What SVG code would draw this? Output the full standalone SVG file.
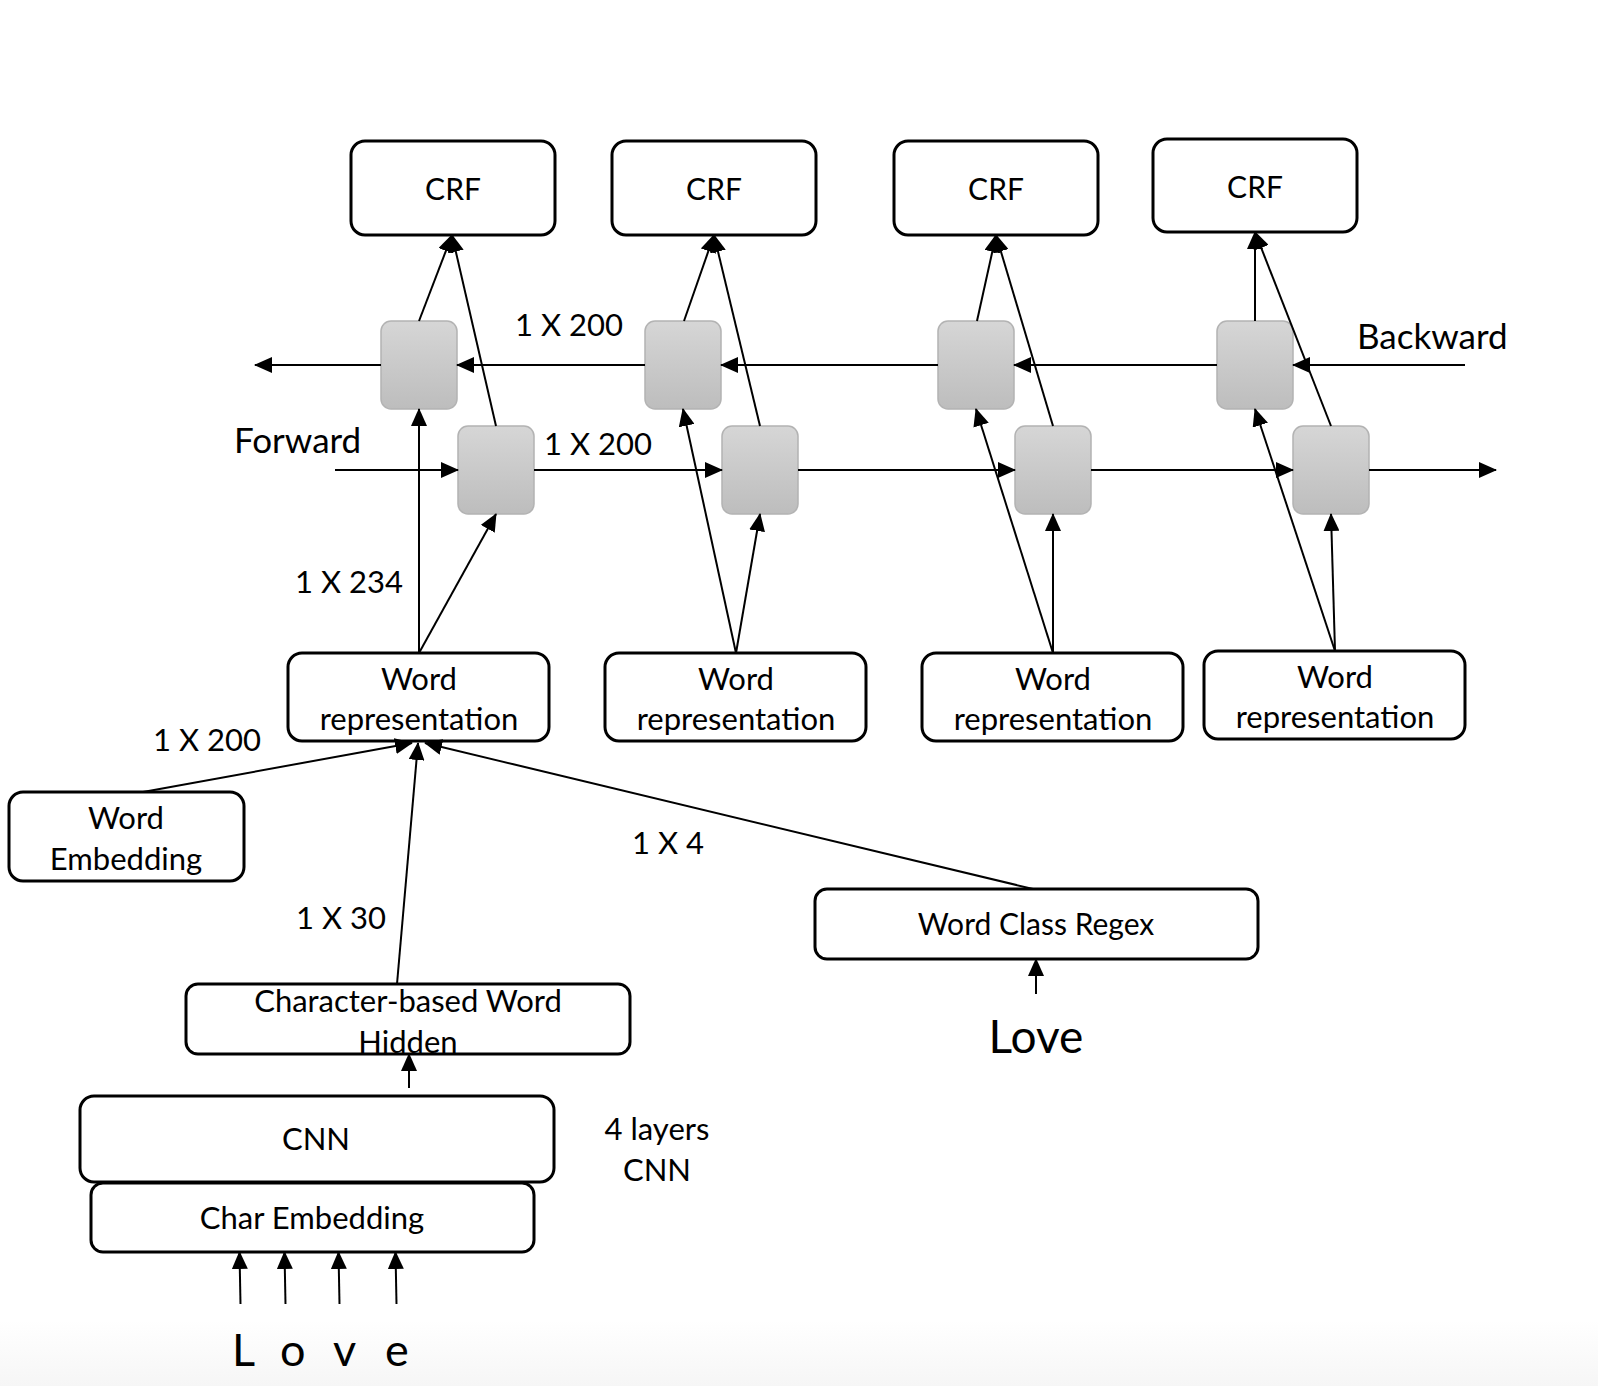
<svg xmlns="http://www.w3.org/2000/svg" width="1598" height="1386" viewBox="0 0 1598 1386">
<style>
.box{fill:#fff;stroke:#000;stroke-width:3}
.cell{stroke:#b3b3b3;stroke-width:1.5}
.t{font-family:Lato,"Liberation Sans",sans-serif;fill:#000;text-anchor:middle;font-size:31px}
.s30{font-size:30px}
.huge{font-size:46px}
.lab{font-family:Lato,"Liberation Sans",sans-serif;fill:#000;font-size:45px}
.big{font-family:Lato,"Liberation Sans",sans-serif;fill:#000;font-size:35px}
.c{fill:none;stroke:#000;stroke-width:2}
.a{marker-end:url(#ah)}
</style>
<defs>
<linearGradient id="g" x1="0" y1="0" x2="0" y2="1">
<stop offset="0" stop-color="#d6d6d6"/>
<stop offset="1" stop-color="#bdbdbd"/>
</linearGradient>
<linearGradient id="bg" x1="0" y1="0" x2="0" y2="1">
<stop offset="0" stop-color="#ffffff"/>
<stop offset="1" stop-color="#f6f6f6"/>
</linearGradient>
<marker id="ah" markerUnits="userSpaceOnUse" markerWidth="18" markerHeight="16" refX="17" refY="8" orient="auto">
<path d="M0,0 L18,8 L0,16 z" fill="#000"/>
</marker>
</defs>
<rect x="0" y="0" width="1598" height="1386" fill="#fff"/>
<rect x="0" y="1320" width="1598" height="66" fill="url(#bg)"/>

<g id="crf1"><rect class="box" x="351" y="141" width="204" height="94" rx="14"/><text class="t s30" x="453" y="200">CRF</text></g>
<g id="crf2"><rect class="box" x="612" y="141" width="204" height="94" rx="14"/><text class="t s30" x="714" y="200">CRF</text></g>
<g id="crf3"><rect class="box" x="894" y="141" width="204" height="94" rx="14"/><text class="t s30" x="996" y="200">CRF</text></g>
<g id="crf4"><rect class="box" x="1153" y="139" width="204" height="93" rx="14"/><text class="t s30" x="1255" y="198">CRF</text></g>

<g id="bcell1"><rect class="cell" fill="url(#g)" x="381" y="321" width="76" height="88" rx="10"/></g>
<g id="bcell2"><rect class="cell" fill="url(#g)" x="645" y="321" width="76" height="88" rx="10"/></g>
<g id="bcell3"><rect class="cell" fill="url(#g)" x="938" y="321" width="76" height="88" rx="10"/></g>
<g id="bcell4"><rect class="cell" fill="url(#g)" x="1217" y="321" width="76" height="88" rx="10"/></g>
<g id="fcell1"><rect class="cell" fill="url(#g)" x="458" y="426" width="76" height="88" rx="10"/></g>
<g id="fcell2"><rect class="cell" fill="url(#g)" x="722" y="426" width="76" height="88" rx="10"/></g>
<g id="fcell3"><rect class="cell" fill="url(#g)" x="1015" y="426" width="76" height="88" rx="10"/></g>
<g id="fcell4"><rect class="cell" fill="url(#g)" x="1293" y="426" width="76" height="88" rx="10"/></g>

<g id="wr1"><rect class="box" x="288" y="653" width="261" height="88" rx="14"/><text class="t" x="419" y="690">Word</text><text class="t" x="419" y="730">representation</text></g>
<g id="wr2"><rect class="box" x="605" y="653" width="261" height="88" rx="14"/><text class="t" x="736" y="690">Word</text><text class="t" x="736" y="730">representation</text></g>
<g id="wr3"><rect class="box" x="922" y="653" width="261" height="88" rx="14"/><text class="t" x="1053" y="690">Word</text><text class="t" x="1053" y="730">representation</text></g>
<g id="wr4"><rect class="box" x="1204" y="651" width="261" height="88" rx="14"/><text class="t" x="1335" y="688">Word</text><text class="t" x="1335" y="728">representation</text></g>

<g id="wordemb"><rect class="box" x="9" y="792" width="235" height="89" rx="14"/><text class="t" x="126" y="829">Word</text><text class="t" x="126" y="870">Embedding</text></g>
<g id="wcr"><rect class="box" x="815" y="889" width="443" height="70" rx="12"/><text class="t s30" x="1036" y="935">Word Class Regex</text></g>
<g id="charhidden"><rect class="box" x="186" y="984" width="444" height="70" rx="12"/><text class="t" x="408" y="1012">Character-based Word</text><text class="t" x="408" y="1053">Hidden</text></g>
<g id="cnn"><rect class="box" x="80" y="1096" width="474" height="86" rx="14"/><text class="t" x="316" y="1150">CNN</text></g>
<g id="charemb"><rect class="box" x="91" y="1183" width="443" height="69" rx="12"/><text class="t" x="312" y="1229">Char Embedding</text></g>

<g id="connectors">
<line class="c a" x1="1465" y1="365" x2="1293" y2="365"/>
<line class="c a" x1="1217" y1="365" x2="1014" y2="365"/>
<line class="c a" x1="938" y1="365" x2="721" y2="365"/>
<line class="c a" x1="645" y1="365" x2="457" y2="365"/>
<line class="c a" x1="381" y1="365" x2="255" y2="365"/>
<line class="c a" x1="335" y1="470" x2="458" y2="470"/>
<line class="c a" x1="534" y1="470" x2="722" y2="470"/>
<line class="c a" x1="798" y1="470" x2="1015" y2="470"/>
<line class="c a" x1="1091" y1="470" x2="1293" y2="470"/>
<line class="c a" x1="1369" y1="470" x2="1496" y2="470"/>
<line class="c a" x1="419" y1="321" x2="452" y2="235"/>
<line class="c a" x1="496" y1="426" x2="452" y2="235"/>
<line class="c a" x1="684" y1="321" x2="714" y2="235"/>
<line class="c a" x1="760" y1="426" x2="714" y2="235"/>
<line class="c a" x1="977" y1="321" x2="996" y2="235"/>
<line class="c a" x1="1053" y1="426" x2="996" y2="235"/>
<line class="c a" x1="1255" y1="321" x2="1255" y2="232"/>
<line class="c a" x1="1331" y1="426" x2="1255" y2="232"/>
<line class="c a" x1="419" y1="653" x2="419" y2="409"/>
<line class="c a" x1="419" y1="653" x2="496" y2="514"/>
<line class="c a" x1="736" y1="653" x2="683" y2="409"/>
<line class="c a" x1="736" y1="653" x2="760" y2="514"/>
<line class="c a" x1="1053" y1="653" x2="976" y2="409"/>
<line class="c a" x1="1053" y1="653" x2="1053" y2="514"/>
<line class="c a" x1="1335" y1="651" x2="1255" y2="409"/>
<line class="c a" x1="1335" y1="651" x2="1331" y2="514"/>
<line class="c a" x1="143" y1="792" x2="412" y2="743"/>
<line class="c a" x1="397" y1="984" x2="418" y2="743"/>
<line class="c a" x1="1033" y1="889" x2="425" y2="743"/>
<line class="c a" x1="1036" y1="994" x2="1036" y2="959"/>
<line class="c a" x1="409" y1="1088" x2="409" y2="1054"/>
<line class="c a" x1="240.5" y1="1304" x2="239.5" y2="1252"/>
<line class="c a" x1="285.5" y1="1304" x2="284.5" y2="1252"/>
<line class="c a" x1="339.5" y1="1304" x2="338.5" y2="1252"/>
<line class="c a" x1="396.5" y1="1304" x2="395.5" y2="1252"/>
</g>

<g id="labels">
<text class="t" x="569" y="336">1 X 200</text>
<text class="t" x="598" y="455">1 X 200</text>
<text class="big" x="234" y="453">Forward</text>
<text class="big" x="1357" y="349">Backward</text>
<text class="t" x="349" y="593">1 X 234</text>
<text class="t" x="207" y="751">1 X 200</text>
<text class="t" x="668" y="854">1 X 4</text>
<text class="t" x="341" y="929">1 X 30</text>
<text class="t" x="657" y="1140">4 layers</text>
<text class="t" x="657" y="1181">CNN</text>
<text class="t huge" x="1036" y="1053">Love</text>
<text class="lab" x="232 259 280 306 333 359 385" y="1366">L o v e</text>
</g>
</svg>
